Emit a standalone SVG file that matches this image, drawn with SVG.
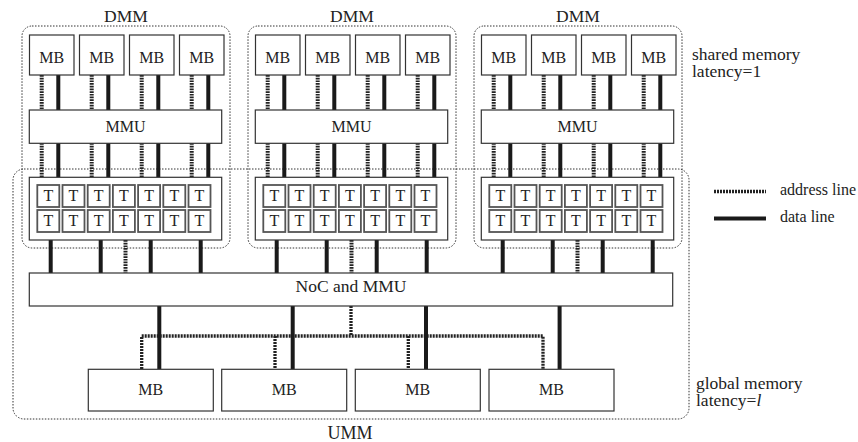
<svg xmlns="http://www.w3.org/2000/svg" width="858" height="442" viewBox="0 0 858 442">
<style>
.box{fill:#fff;stroke:#333;stroke-width:1.2}
.cell{fill:#fff;stroke:#555;stroke-width:1.8}
.region{fill:none;stroke:#333;stroke-width:1;stroke-dasharray:1.5 1.5}
.addr{stroke:#222;stroke-width:4;stroke-dasharray:1.7 1;fill:none}
.addrh{stroke:#222;stroke-width:3.3;stroke-dasharray:2 1;fill:none}
.data{stroke:#1a1a1a;stroke-width:4;fill:none}
text{font-family:"Liberation Serif",serif;fill:#222}
.c{text-anchor:middle}
.s16{font-size:16px}
.s17{font-size:17.5px}
.side{font-size:17.5px}
.s18{font-size:18px}
</style>
<rect width="858" height="442" fill="#fff"/>

<g id="umm">
  <rect class="region" x="13" y="169" width="676" height="250" rx="11"/>
  <text class="c s18" x="350" y="439">UMM</text>
</g>
<g id="dmm1">
  <rect class="region" x="22" y="26" width="208" height="222" rx="10"/>
  <text class="c s17" x="126" y="22">DMM</text>
</g>
<g id="dmm2">
  <rect class="region" x="248" y="26" width="208" height="222" rx="10"/>
  <text class="c s17" x="352" y="22">DMM</text>
</g>
<g id="dmm3">
  <rect class="region" x="474" y="26" width="208" height="222" rx="10"/>
  <text class="c s17" x="578" y="22">DMM</text>
</g>

<g id="connectors">
  <g id="conn-block1">
    <path class="addr" d="M41.7 75V110M91.7 75V110M141.7 75V110M191.7 75V110M41.7 143V177M91.7 143V177M141.7 143V177M191.7 143V177M125.5 240V273"/>
    <path class="data" d="M58.3 75V110M108.3 75V110M158.3 75V110M208.3 75V110M58.3 143V177M108.3 143V177M158.3 143V177M208.3 143V177M50.7 240V273M100.7 240V273M150.7 240V273M200.7 240V273"/>
  </g>
  <g id="conn-block2" transform="translate(226,0)">
    <path class="addr" d="M41.7 75V110M91.7 75V110M141.7 75V110M191.7 75V110M41.7 143V177M91.7 143V177M141.7 143V177M191.7 143V177M125.5 240V273"/>
    <path class="data" d="M58.3 75V110M108.3 75V110M158.3 75V110M208.3 75V110M58.3 143V177M108.3 143V177M158.3 143V177M208.3 143V177M50.7 240V273M100.7 240V273M150.7 240V273M200.7 240V273"/>
  </g>
  <g id="conn-block3" transform="translate(452,0)">
    <path class="addr" d="M41.7 75V110M91.7 75V110M141.7 75V110M191.7 75V110M41.7 143V177M91.7 143V177M141.7 143V177M191.7 143V177M125.5 240V273"/>
    <path class="data" d="M58.3 75V110M108.3 75V110M158.3 75V110M208.3 75V110M58.3 143V177M108.3 143V177M158.3 143V177M208.3 143V177M50.7 240V273M100.7 240V273M150.7 240V273M200.7 240V273"/>
  </g>
  <g id="conn-global">
    <path class="addrh" d="M141.7 369V336H543V369M275 336V369M408.3 336V369M351 306V336"/>
    <path class="data" d="M159.3 306V369M292.7 306V369M426 306V369M559.6 306V369"/>
  </g>
</g>

<g id="block1">
  <g id="b1-mb1"><rect class="box" x="29.5" y="35" width="44.5" height="40"/><text class="c s16" x="51.75" y="63">MB</text></g>
  <g id="b1-mb2"><rect class="box" x="79.5" y="35" width="44.5" height="40"/><text class="c s16" x="101.75" y="63">MB</text></g>
  <g id="b1-mb3"><rect class="box" x="129.5" y="35" width="44.5" height="40"/><text class="c s16" x="151.75" y="63">MB</text></g>
  <g id="b1-mb4"><rect class="box" x="179.5" y="35" width="44.5" height="40"/><text class="c s16" x="201.75" y="63">MB</text></g>
  <g id="b1-mmu"><rect class="box" x="29.3" y="110" width="192.4" height="33.3"/><text class="c s16" x="125.5" y="132">MMU</text></g>
  <g id="b1-threads">
    <rect class="box" x="29.3" y="177.3" width="192.4" height="62.7"/>
    <rect class="cell" x="37.3" y="185" width="22" height="22"/><rect class="cell" x="62.5" y="185" width="22" height="22"/><rect class="cell" x="87.7" y="185" width="22" height="22"/><rect class="cell" x="112.9" y="185" width="22" height="22"/><rect class="cell" x="138.1" y="185" width="22" height="22"/><rect class="cell" x="163.3" y="185" width="22" height="22"/><rect class="cell" x="188.5" y="185" width="22" height="22"/>
    <rect class="cell" x="37.3" y="210" width="22" height="22"/><rect class="cell" x="62.5" y="210" width="22" height="22"/><rect class="cell" x="87.7" y="210" width="22" height="22"/><rect class="cell" x="112.9" y="210" width="22" height="22"/><rect class="cell" x="138.1" y="210" width="22" height="22"/><rect class="cell" x="163.3" y="210" width="22" height="22"/><rect class="cell" x="188.5" y="210" width="22" height="22"/>
    <text class="c s16" x="48.3" y="201">T</text><text class="c s16" x="73.5" y="201">T</text><text class="c s16" x="98.7" y="201">T</text><text class="c s16" x="123.9" y="201">T</text><text class="c s16" x="149.1" y="201">T</text><text class="c s16" x="174.3" y="201">T</text><text class="c s16" x="199.5" y="201">T</text>
    <text class="c s16" x="48.3" y="226">T</text><text class="c s16" x="73.5" y="226">T</text><text class="c s16" x="98.7" y="226">T</text><text class="c s16" x="123.9" y="226">T</text><text class="c s16" x="149.1" y="226">T</text><text class="c s16" x="174.3" y="226">T</text><text class="c s16" x="199.5" y="226">T</text>
  </g>
</g>

<g id="block2" transform="translate(226,0)">
  <g id="b2-mb1"><rect class="box" x="29.5" y="35" width="44.5" height="40"/><text class="c s16" x="51.75" y="63">MB</text></g>
  <g id="b2-mb2"><rect class="box" x="79.5" y="35" width="44.5" height="40"/><text class="c s16" x="101.75" y="63">MB</text></g>
  <g id="b2-mb3"><rect class="box" x="129.5" y="35" width="44.5" height="40"/><text class="c s16" x="151.75" y="63">MB</text></g>
  <g id="b2-mb4"><rect class="box" x="179.5" y="35" width="44.5" height="40"/><text class="c s16" x="201.75" y="63">MB</text></g>
  <g id="b2-mmu"><rect class="box" x="29.3" y="110" width="192.4" height="33.3"/><text class="c s16" x="125.5" y="132">MMU</text></g>
  <g id="b2-threads">
    <rect class="box" x="29.3" y="177.3" width="192.4" height="62.7"/>
    <rect class="cell" x="37.3" y="185" width="22" height="22"/><rect class="cell" x="62.5" y="185" width="22" height="22"/><rect class="cell" x="87.7" y="185" width="22" height="22"/><rect class="cell" x="112.9" y="185" width="22" height="22"/><rect class="cell" x="138.1" y="185" width="22" height="22"/><rect class="cell" x="163.3" y="185" width="22" height="22"/><rect class="cell" x="188.5" y="185" width="22" height="22"/>
    <rect class="cell" x="37.3" y="210" width="22" height="22"/><rect class="cell" x="62.5" y="210" width="22" height="22"/><rect class="cell" x="87.7" y="210" width="22" height="22"/><rect class="cell" x="112.9" y="210" width="22" height="22"/><rect class="cell" x="138.1" y="210" width="22" height="22"/><rect class="cell" x="163.3" y="210" width="22" height="22"/><rect class="cell" x="188.5" y="210" width="22" height="22"/>
    <text class="c s16" x="48.3" y="201">T</text><text class="c s16" x="73.5" y="201">T</text><text class="c s16" x="98.7" y="201">T</text><text class="c s16" x="123.9" y="201">T</text><text class="c s16" x="149.1" y="201">T</text><text class="c s16" x="174.3" y="201">T</text><text class="c s16" x="199.5" y="201">T</text>
    <text class="c s16" x="48.3" y="226">T</text><text class="c s16" x="73.5" y="226">T</text><text class="c s16" x="98.7" y="226">T</text><text class="c s16" x="123.9" y="226">T</text><text class="c s16" x="149.1" y="226">T</text><text class="c s16" x="174.3" y="226">T</text><text class="c s16" x="199.5" y="226">T</text>
  </g>
</g>

<g id="block3" transform="translate(452,0)">
  <g id="b3-mb1"><rect class="box" x="29.5" y="35" width="44.5" height="40"/><text class="c s16" x="51.75" y="63">MB</text></g>
  <g id="b3-mb2"><rect class="box" x="79.5" y="35" width="44.5" height="40"/><text class="c s16" x="101.75" y="63">MB</text></g>
  <g id="b3-mb3"><rect class="box" x="129.5" y="35" width="44.5" height="40"/><text class="c s16" x="151.75" y="63">MB</text></g>
  <g id="b3-mb4"><rect class="box" x="179.5" y="35" width="44.5" height="40"/><text class="c s16" x="201.75" y="63">MB</text></g>
  <g id="b3-mmu"><rect class="box" x="29.3" y="110" width="192.4" height="33.3"/><text class="c s16" x="125.5" y="132">MMU</text></g>
  <g id="b3-threads">
    <rect class="box" x="29.3" y="177.3" width="192.4" height="62.7"/>
    <rect class="cell" x="37.3" y="185" width="22" height="22"/><rect class="cell" x="62.5" y="185" width="22" height="22"/><rect class="cell" x="87.7" y="185" width="22" height="22"/><rect class="cell" x="112.9" y="185" width="22" height="22"/><rect class="cell" x="138.1" y="185" width="22" height="22"/><rect class="cell" x="163.3" y="185" width="22" height="22"/><rect class="cell" x="188.5" y="185" width="22" height="22"/>
    <rect class="cell" x="37.3" y="210" width="22" height="22"/><rect class="cell" x="62.5" y="210" width="22" height="22"/><rect class="cell" x="87.7" y="210" width="22" height="22"/><rect class="cell" x="112.9" y="210" width="22" height="22"/><rect class="cell" x="138.1" y="210" width="22" height="22"/><rect class="cell" x="163.3" y="210" width="22" height="22"/><rect class="cell" x="188.5" y="210" width="22" height="22"/>
    <text class="c s16" x="48.3" y="201">T</text><text class="c s16" x="73.5" y="201">T</text><text class="c s16" x="98.7" y="201">T</text><text class="c s16" x="123.9" y="201">T</text><text class="c s16" x="149.1" y="201">T</text><text class="c s16" x="174.3" y="201">T</text><text class="c s16" x="199.5" y="201">T</text>
    <text class="c s16" x="48.3" y="226">T</text><text class="c s16" x="73.5" y="226">T</text><text class="c s16" x="98.7" y="226">T</text><text class="c s16" x="123.9" y="226">T</text><text class="c s16" x="149.1" y="226">T</text><text class="c s16" x="174.3" y="226">T</text><text class="c s16" x="199.5" y="226">T</text>
  </g>
</g>

<g id="noc"><rect class="box" x="29.3" y="273" width="643.4" height="33"/><text class="c s17" x="351" y="292">NoC and MMU</text></g>

<g id="gmb1"><rect class="box" x="88.3" y="369.3" width="125" height="41.7"/><text class="c s16" x="150.8" y="395">MB</text></g>
<g id="gmb2"><rect class="box" x="221.7" y="369.3" width="125" height="41.7"/><text class="c s16" x="284.2" y="395">MB</text></g>
<g id="gmb3"><rect class="box" x="355.3" y="369.3" width="125" height="41.7"/><text class="c s16" x="417.8" y="395">MB</text></g>
<g id="gmb4"><rect class="box" x="489" y="369.3" width="125" height="41.7"/><text class="c s16" x="551.5" y="395">MB</text></g>

<g id="label-shared">
  <text class="side" x="692" y="60">shared memory</text>
  <text class="side" x="692" y="77">latency=1</text>
</g>
<g id="label-global">
  <text class="side" x="696" y="388.5">global memory</text>
  <text class="side" x="696" y="405.5">latency=<tspan font-style="italic">l</tspan></text>
</g>
<g id="legend">
  <line class="addrh" x1="714" y1="191.5" x2="766" y2="191.5"/>
  <text class="s16" x="780" y="194.5">address line</text>
  <line class="data" x1="714" y1="218.5" x2="766" y2="218.5"/>
  <text class="s16" x="780" y="222">data line</text>
</g>
</svg>
